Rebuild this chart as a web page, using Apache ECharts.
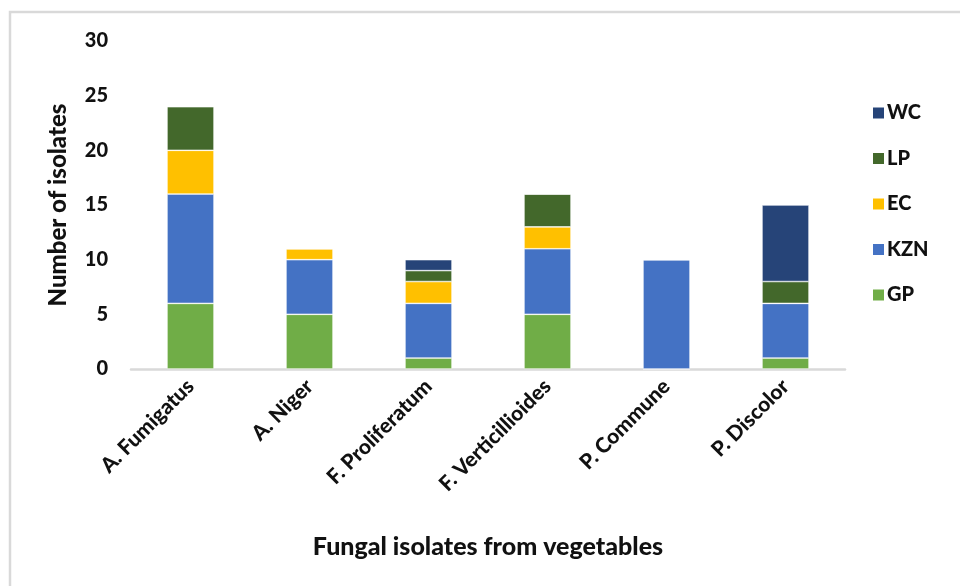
<!DOCTYPE html>
<html>
<head>
<meta charset="utf-8">
<script src="https://cdn.jsdelivr.net/npm/echarts@6/dist/echarts.min.js"></script>
<style>
  html, body { margin: 0; padding: 0; background: #fff; }
  #chart { width: 960px; height: 586px; }
</style>
</head>
<body>
<div id="chart"></div>
<script>
// Fungal isolates per species, split by province
const categories = ['A. Fumigatus', 'A. Niger', 'F. Proliferatum', 'F. Verticillioides', 'P. Commune', 'P. Discolor'];
const gpValues  = [6, 5, 1, 5, 0, 1];
const kznValues = [10, 5, 5, 6, 10, 5];
const ecValues  = [4, 1, 2, 2, 0, 0];
const lpValues  = [4, 0, 1, 3, 0, 2];
const wcValues  = [0, 0, 1, 0, 0, 7];
const yTicks = [0, 5, 10, 15, 20, 25, 30];

const FONT = 'Lato, "Open Sans", sans-serif';
const WEIGHT = 900;

const seriesDefs = [
  { name: 'GP',  data: gpValues,  color: '#70AD47' },
  { name: 'KZN', data: kznValues, color: '#4472C4' },
  { name: 'EC',  data: ecValues,  color: '#FFC000' },
  { name: 'LP',  data: lpValues,  color: '#43682B' },
  { name: 'WC',  data: wcValues,  color: '#264478' }
];

const chart = echarts.init(document.getElementById('chart'), null, { renderer: 'canvas' });

chart.setOption({
  backgroundColor: '#ffffff',
  animation: false,
  graphic: [{
    type: 'rect',
    shape: { x: 10, y: 12, width: 1000, height: 700 },
    style: { fill: 'none', stroke: '#d9d9d9', lineWidth: 2.5 },
    silent: true
  }],
  grid: { left: 131, right: 115, top: 41, bottom: 217 },
  legend: {
    orient: 'vertical',
    left: 866,
    top: 98,
    data: ['WC', 'LP', 'EC', 'KZN', 'GP'],
    itemWidth: 13,
    itemHeight: 13,
    itemGap: 25.5,
    icon: 'rect',
    textStyle: { fontFamily: FONT, fontSize: 20, fontWeight: WEIGHT, color: '#111', lineHeight: 20, padding: [0, 0, 0, -3] }
  },
  xAxis: {
    type: 'category',
    data: categories,
    name: 'Fungal isolates from vegetables',
    nameLocation: 'middle',
    nameGap: 165,
    nameTextStyle: { fontFamily: FONT, fontSize: 25, fontWeight: WEIGHT, color: '#111' },
    axisLine: { show: true, lineStyle: { color: '#d9d9d9', width: 2.5 } },
    axisTick: { show: false },
    axisLabel: {
      rotate: 45,
      margin: 14,
      interval: 0,
      fontFamily: FONT, fontSize: 21, fontWeight: WEIGHT, color: '#111'
    }
  },
  yAxis: {
    type: 'value',
    min: 0,
    max: 30,
    interval: 5,
    name: 'Number of isolates',
    nameLocation: 'middle',
    nameGap: 61,
    nameRotate: 90,
    nameTextStyle: { fontFamily: FONT, fontSize: 24, fontWeight: WEIGHT, color: '#111' },
    axisLine: { show: false },
    axisTick: { show: false },
    splitLine: { show: false },
    axisLabel: {
      margin: 23,
      fontFamily: FONT, fontSize: 20, fontWeight: WEIGHT, color: '#111',
      formatter: v => (yTicks.indexOf(v) >= 0 ? String(v) : '')
    }
  },
  series: seriesDefs.map(s => ({
    name: s.name,
    type: 'bar',
    stack: 'total',
    barWidth: '39.5%',
    data: s.data,
    itemStyle: { color: s.color, borderColor: '#ffffff', borderWidth: 0.6 }
  }))
});
</script>
</body>
</html>
